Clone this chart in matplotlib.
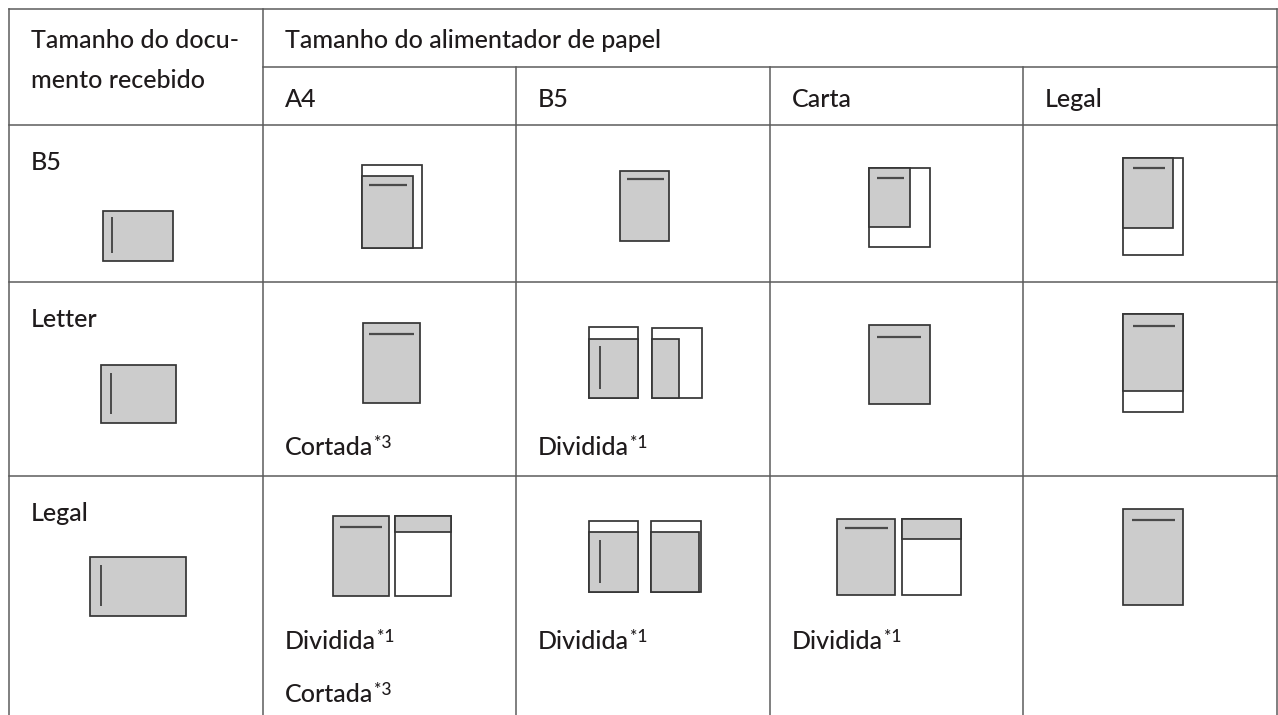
import matplotlib
matplotlib.use('Agg')
import matplotlib.pyplot as plt
from matplotlib.patches import Rectangle

plt.rcParams['font.family'] = ['Lato', 'DejaVu Sans']
plt.rcParams['font.weight'] = 'medium'

# ---------------- data ----------------
header_left = ['Tamanho do docu-', 'mento recebido']
header_top = 'Tamanho do alimentador de papel'
feeder_sizes = ['A4', 'B5', 'Carta', 'Legal']
received_sizes = ['B5', 'Letter', 'Legal']

# notes per (row, feeder column): list of (text, superscript)
notes = {
    (1, 0): [('Cortada', '*3')],
    (1, 1): [('Dividida', '*1')],
    (2, 0): [('Dividida', '*1'), ('Cortada', '*3')],
    (2, 1): [('Dividida', '*1')],
    (2, 2): [('Dividida', '*1')],
}

# schematic page drawings: ('r', x0, y0, x1, y1, fill) / ('h', x0, x1, y) / ('v', x, y0, y1)
G, Wt = 'gray', 'white'
drawings = [
    # row B5
    ('r', 103, 211, 173, 261, G), ('v', 112, 217, 253),
    ('r', 362, 165, 422, 248, Wt), ('r', 362, 176, 413, 248, G), ('h', 369, 407, 185),
    ('r', 620, 171, 669, 241, G), ('h', 627, 664, 179),
    ('r', 869, 168, 930, 247, Wt), ('r', 869, 168, 910, 227, G), ('h', 877, 904, 178),
    ('r', 1123, 158, 1183, 255, Wt), ('r', 1123, 158, 1173, 228, G), ('h', 1133, 1165, 168),
    # row Letter
    ('r', 101, 365, 176, 423, G), ('v', 111, 373, 414),
    ('r', 363, 323, 420, 403, G), ('h', 369, 414, 334),
    ('r', 589, 327, 638, 398, Wt), ('r', 589, 339, 638, 398, G), ('v', 600, 346, 389),
    ('r', 652, 328, 702, 398, Wt), ('r', 652, 339, 679, 398, G),
    ('r', 869, 325, 930, 404, G), ('h', 877, 921, 337),
    ('r', 1123, 314, 1183, 412, Wt), ('r', 1123, 314, 1183, 391, G), ('h', 1133, 1175, 326),
    # row Legal
    ('r', 90, 557, 186, 616, G), ('v', 101, 565, 606),
    ('r', 333, 516, 389, 596, G), ('h', 340, 382, 527),
    ('r', 395, 516, 451, 596, Wt), ('r', 395, 516, 451, 532, G),
    ('r', 589, 521, 638, 592, Wt), ('r', 589, 532, 638, 592, G), ('v', 600, 540, 583),
    ('r', 651, 521, 701, 592, Wt), ('r', 651, 532, 699, 592, G),
    ('r', 837, 519, 895, 595, G), ('h', 845, 888, 528),
    ('r', 902, 519, 961, 595, Wt), ('r', 902, 519, 961, 539, G),
    ('r', 1123, 509, 1183, 605, G), ('h', 1132, 1175, 520),
]

# ---------------- layout ----------------
W, H = 1278, 715
col_edges = [9, 263, 516, 770, 1023, 1277]
row_edges = [9, 67, 125, 282, 476, 715]
pad = 22
txt_color = '#1f1b1c'
grid_color = '#5c5c5c'
fs = 18.0
sup_fs = 12.5

fig = plt.figure(figsize=(W / 100, H / 100), dpi=100)
ax = fig.add_axes([0, 0, 1, 1])
ax.set_xlim(0, W)
ax.set_ylim(H, 0)
ax.axis('off')

glw = 1.1
# horizontal grid lines
ax.plot([col_edges[0], col_edges[-1]], [row_edges[0]] * 2, color=grid_color, lw=glw)
ax.plot([col_edges[1], col_edges[-1]], [row_edges[1]] * 2, color=grid_color, lw=glw)
for y in row_edges[2:5]:
    ax.plot([col_edges[0], col_edges[-1]], [y, y], color=grid_color, lw=glw)
# vertical grid lines
for i, x in enumerate(col_edges):
    top = row_edges[1] if i in (2, 3, 4) else row_edges[0]
    ax.plot([x, x], [top, row_edges[-1]], color=grid_color, lw=glw)

# header texts
ax.text(col_edges[0] + pad, 48, header_left[0], fontsize=fs, color=txt_color, va='baseline', ha='left')
ax.text(col_edges[0] + pad, 88, header_left[1], fontsize=fs, color=txt_color, va='baseline', ha='left')
ax.text(col_edges[1] + pad, 48, header_top, fontsize=fs, color=txt_color, va='baseline', ha='left')
for j, lab in enumerate(feeder_sizes):
    ax.text(col_edges[j + 1] + pad, 107, lab, fontsize=fs, color=txt_color, va='baseline', ha='left')

# row labels
for i, lab in enumerate(received_sizes):
    ax.text(col_edges[0] + pad, row_edges[i + 2] + 45, lab, fontsize=fs, color=txt_color,
            va='baseline', ha='left')

# drawings
for d in drawings:
    if d[0] == 'r':
        _, x0, y0, x1, y1, f = d
        ax.add_patch(Rectangle((x0, y0), x1 - x0, y1 - y0,
                               facecolor='#cccccc' if f == G else 'white',
                               edgecolor='#353535', lw=1.25, zorder=3))
    elif d[0] == 'h':
        _, x0, x1, y = d
        ax.plot([x0, x1], [y, y], color='#4a4a4a', lw=1.6, zorder=4, solid_capstyle='butt')
    else:
        _, x, y0, y1 = d
        ax.plot([x, x], [y0, y1], color='#4a4a4a', lw=1.4, zorder=4, solid_capstyle='butt')

# notes with superscripts
fig.canvas.draw()
renderer = fig.canvas.get_renderer()
inv = ax.transData.inverted()
for (ri, cj), items in notes.items():
    for k, (t, sup) in enumerate(items):
        xb = col_edges[cj + 1] + pad
        yb = row_edges[ri + 2] + 173 + 53 * k
        tx = ax.text(xb, yb, t, fontsize=fs, color=txt_color, va='baseline', ha='left')
        bb = tx.get_window_extent(renderer)
        xe = inv.transform((bb.x1, bb.y0))[0]
        ax.text(xe + 0.5, yb - 7, sup, fontsize=sup_fs, color=txt_color, va='baseline', ha='left')

fig.savefig('out.png', dpi=100)
